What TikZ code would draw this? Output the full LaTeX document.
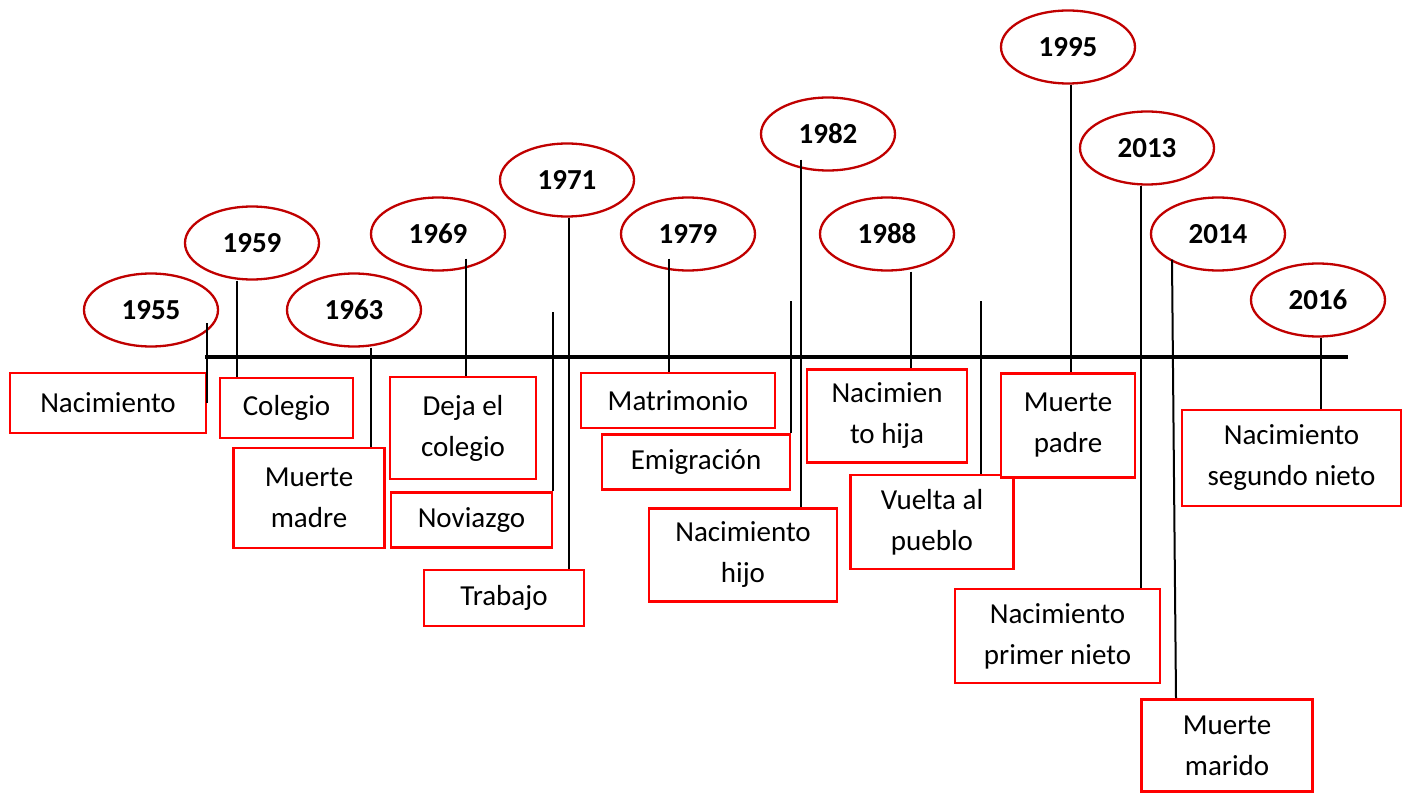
\documentclass[tikz,border=0pt]{standalone}
\usepackage{fontspec}
\setmainfont{Carlito}
\usepackage{tikz}
\usetikzlibrary{shapes.geometric}
\definecolor{bubblered}{RGB}{192,0,0}
\definecolor{boxred}{RGB}{255,0,0}
\tikzstyle{yearbubble} = [draw=bubblered, fill=white, line width=2.3pt, ellipse, minimum width=134pt, minimum height=73pt, inner sep=0pt, font=\fontsize{29}{34}\selectfont\bfseries]
\tikzstyle{eventbox} = [draw=boxred, fill=white, line width=2.6pt, rectangle, align=center, inner sep=0pt, font=\fontsize{29}{41}\selectfont]
\tikzstyle{stem} = [draw=black, line width=2pt]
\tikzstyle{axisline} = [draw=black, line width=4.3pt]

\begin{document}
\begin{tikzpicture}[x=1pt, y=-1pt]
\useasboundingbox (0,0) rectangle (1403,794);

% years
\node[yearbubble] (y1955) at (151,310) {1955};
\node[yearbubble] (y1959) at (252,243) {1959};
\node[yearbubble] (y1963) at (354,310) {1963};
\node[yearbubble] (y1969) at (438,234) {1969};
\node[yearbubble] (y1971) at (567,180) {1971};
\node[yearbubble] (y1979) at (688,234) {1979};
\node[yearbubble] (y1982) at (828,134) {1982};
\node[yearbubble] (y1988) at (887,234) {1988};
\node[yearbubble] (y1995) at (1068,47) {1995};
\node[yearbubble] (y2013) at (1147,148) {2013};
\node[yearbubble] (y2014) at (1218,234) {2014};
\node[yearbubble] (y2016) at (1318,300) {2016};

% events
\node[eventbox, minimum width=196pt, minimum height=60pt] (nac) at (108,403) {Nacimiento};
\node[eventbox, minimum width=133pt, minimum height=60pt] (col) at (286.5,408) {Colegio};
\node[eventbox, minimum width=151pt, minimum height=100pt] (madre) at (309,498) {Muerte\\madre};
\node[eventbox, minimum width=146pt, minimum height=102pt] (deja) at (463,428) {Deja el\\colegio};
\node[eventbox, minimum width=161pt, minimum height=55pt] (novi) at (471.5,520) {Noviazgo};
\node[eventbox, minimum width=160pt, minimum height=56pt] (trab) at (504,598) {Trabajo};
\node[eventbox, minimum width=194pt, minimum height=55pt] (matri) at (678,400.5) {Matrimonio};
\node[eventbox, minimum width=188pt, minimum height=55pt] (emig) at (696,462) {Emigración};
\node[eventbox, minimum width=188pt, minimum height=93pt] (hijo) at (743,555) {Nacimiento\\hijo};
\node[eventbox, minimum width=160pt, minimum height=93pt] (hija) at (887,416) {Nacimien\\to hija};
\node[eventbox, minimum width=163pt, minimum height=94pt] (vuelta) at (932,522) {Vuelta al\\pueblo};
\node[eventbox, minimum width=134pt, minimum height=104pt] (padre) at (1068,425.5) {Muerte\\padre};
\node[eventbox, minimum width=205pt, minimum height=94pt] (primer) at (1057.5,636) {Nacimiento\\primer nieto};
\node[eventbox, minimum width=171pt, minimum height=92pt] (marido) at (1227,745.5) {Muerte\\marido};
\node[eventbox, minimum width=219pt, minimum height=96pt] (segundo) at (1291.5,458) {Nacimiento\\segundo nieto};

% time line
\coordinate (axisstart) at (205,357);
\coordinate (axisend) at (1348,357);
\draw[axisline] (axisstart) -- (axisend);

% stems
\draw[stem] (nac.east) -- ([yshift=25pt]y1955.south -| nac.east);
\draw[stem] ([xshift=-15pt]y1959.south) -- ([xshift=-15pt]y1959.south |- col.north);
\draw[stem] ([xshift=17pt]y1963.south) -- ([xshift=17pt]y1963.south |- madre.north);
\draw[stem] ([xshift=28pt,yshift=13pt]y1969.south) -- ([xshift=28pt]y1969.south |- deja.north);
\draw[stem] (novi.north east) -- ++(0,-179);
\draw[stem] ([xshift=2pt]y1971.south) -- ([xshift=2pt]y1971.south |- trab.north);
\draw[stem] ([xshift=-19pt,yshift=13pt]y1979.south) -- ([xshift=-19pt]y1979.south |- matri.north);
\draw[stem] (emig.north east) -- ++(0,-132);
\draw[stem] ([xshift=-27pt,yshift=12pt]y1982.south) -- ([xshift=-27pt]y1982.south |- hijo.north);
\draw[stem] ([xshift=24pt]y1988.south) -- ([xshift=24pt]y1988.south |- hija.north);
\draw[stem] ([xshift=-34pt]vuelta.north east) -- ++(0,-173);
\draw[stem] ([xshift=3pt]y1995.south) -- ([xshift=3pt]y1995.south |- padre.north);
\draw[stem] ([xshift=-6pt]y2013.south) -- ([xshift=-6pt]y2013.south |- primer.north);
\draw[stem] ([xshift=-46pt,yshift=12pt]y2014.south) -- ([xshift=-42pt]y2014.south |- marido.north);
\draw[stem] ([xshift=3pt]y2016.south) -- ([xshift=3pt]y2016.south |- segundo.north);
\end{tikzpicture}
\end{document}
